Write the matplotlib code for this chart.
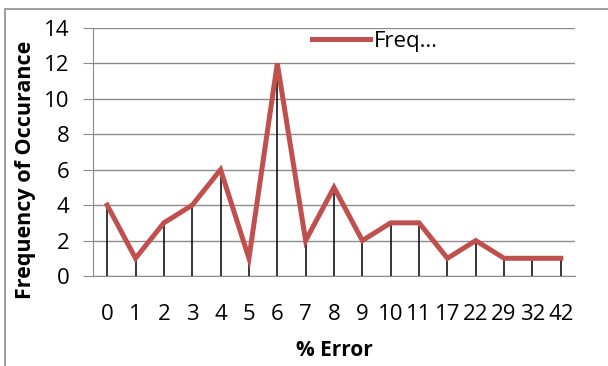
import numpy as np
import matplotlib.pyplot as plt
from matplotlib.patches import Rectangle

plt.rcParams['font.family'] = ['Open Sans', 'DejaVu Sans']

# data
categories = ['0', '1', '2', '3', '4', '5', '6', '7', '8', '9', '10', '11', '17', '22', '29', '32', '42']
frequency = [4, 1, 3, 4, 6, 1, 12, 2, 5, 2, 3, 3, 1, 2, 1, 1, 1]
y_ticks = [0, 2, 4, 6, 8, 10, 12, 14]

W, H = 608, 366
fig = plt.figure(figsize=(W / 100, H / 100), dpi=100)

# outer chart border (Excel style)
fig.patches.append(Rectangle((5 / W, -0.05), 1.1, 1 - 9 / H + 0.05, transform=fig.transFigure,
                             fill=False, edgecolor='#8c8c8c', linewidth=1.2))

# plot area in pixels: left 93, right 575, top 28, bottom 276
ax = fig.add_axes([93 / W, 1 - 276 / H, (575 - 93) / W, (276 - 28) / H])

x = np.arange(len(categories))
ax.vlines(x, 0, frequency, color='black', linewidth=1.1, zorder=2)
ax.plot(x, frequency, color='#C0504D', linewidth=3.6, solid_joinstyle='miter', zorder=3, label='Freq…')

ax.set_xlim(-0.5, len(categories) - 0.5)
ax.set_ylim(0, 14)
ax.set_yticks(y_ticks)
ax.set_xticks(x)
ax.set_xticklabels(categories)
ax.yaxis.grid(True, color='#8c8c8c', linewidth=1.0)
ax.set_axisbelow(True)

for side in ['top', 'right']:
    ax.spines[side].set_visible(False)
ax.spines['left'].set_color('#8c8c8c')
ax.spines['bottom'].set_color('#8c8c8c')
ax.tick_params(axis='y', length=7, color='#8c8c8c', labelsize=16, pad=10)
ax.tick_params(axis='x', length=0, labelsize=16, pad=20)

ax.set_xlabel('% Error', fontsize=15, fontweight='bold')
ax.xaxis.set_label_coords(0.5, -(350 - 276) / 248)
ax.set_ylabel('Frequency of Occurance', fontsize=15.5, fontweight='bold')
ax.yaxis.set_label_coords(-(93 - 26) / 482, 1 - (170 - 28) / 248)
ax.xaxis.label.set_va('center')
ax.yaxis.label.set_va('center')

ax.legend(loc='upper center', bbox_to_anchor=(0.585, 1.07), frameon=False, fontsize=16,
          handlelength=2.6, handletextpad=0.15)

fig.savefig('out.png', dpi=100)
